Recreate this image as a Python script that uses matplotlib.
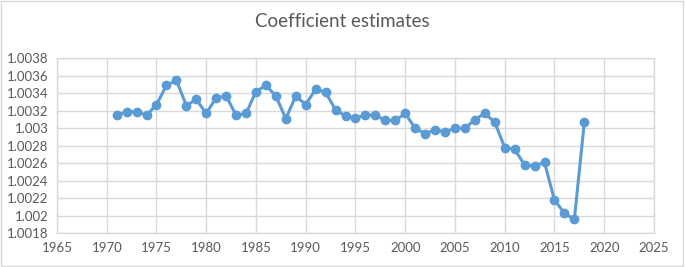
import matplotlib
matplotlib.use("Agg")
import matplotlib.pyplot as plt
from matplotlib.patches import Rectangle

# Values
years = list(range(1971, 2019))
estimates = [
    1.00315, 1.00319, 1.00319, 1.00315, 1.00327, 1.00349, 1.00355, 1.00326,
    1.00333, 1.00317, 1.00335, 1.00337, 1.00315, 1.00317, 1.00342, 1.00349,
    1.00337, 1.00311, 1.00337, 1.00327, 1.00345, 1.00341, 1.00321, 1.00314,
    1.00312, 1.00315, 1.00315, 1.00309, 1.00309, 1.00317, 1.00300, 1.00294,
    1.00298, 1.00296, 1.00300, 1.00300, 1.00310, 1.00317, 1.00307, 1.00278,
    1.00276, 1.00258, 1.00257, 1.00261, 1.00218, 1.00203, 1.00196, 1.00307,
]
x_ticks = list(range(1965, 2030, 5))
y_ticks = [1.0018, 1.002, 1.0022, 1.0024, 1.0026, 1.0028, 1.003,
           1.0032, 1.0034, 1.0036, 1.0038]
y_labels = ["1.0018", "1.002", "1.0022", "1.0024", "1.0026", "1.0028",
            "1.003", "1.0032", "1.0034", "1.0036", "1.0038"]

plt.rcParams['font.family'] = ['Lato', 'DejaVu Sans']

fig = plt.figure(figsize=(6.85, 2.67), dpi=100)
ax = fig.add_axes([0.0832, 0.1262, 0.8715, 0.6554])

grid_col = "#d9d9d9"
text_col = "#595959"

ax.plot(years, estimates, color="#5b9bd5", linewidth=2.2, marker="o",
        markersize=6, zorder=3)

ax.set_xlim(1965, 2025)
ax.set_ylim(1.0018, 1.0038)
ax.set_xticks(x_ticks)
ax.set_yticks(y_ticks)
ax.set_yticklabels(y_labels)
ax.grid(True, color=grid_col, linewidth=1)
ax.set_axisbelow(True)
for side in ax.spines.values():
    side.set_color(grid_col)
    side.set_linewidth(1)
ax.tick_params(length=0, labelsize=9.5, colors=text_col, pad=6)

fig.text(0.5, 0.92, "Coefficient estimates", ha="center", va="center",
         fontsize=13.5, color=text_col)

# outer chart border
fig.patches.append(Rectangle((0.001, 0.003), 0.996, 0.994,
                             transform=fig.transFigure, fill=False,
                             edgecolor=grid_col, linewidth=1))

fig.savefig("out.png", dpi=100)
